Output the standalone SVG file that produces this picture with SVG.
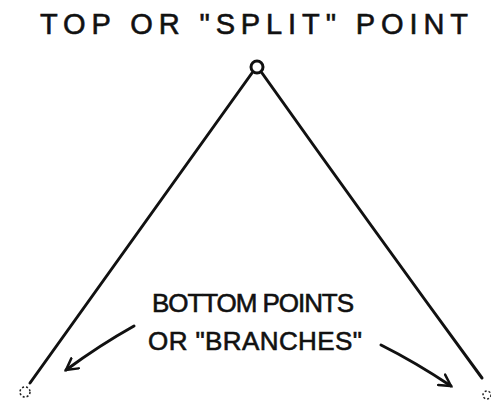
<svg xmlns="http://www.w3.org/2000/svg" width="491" height="407" viewBox="0 0 491 407">
<style>
.t{font-family:"Liberation Sans",Arial,sans-serif;fill:#111;stroke:#111;stroke-width:0.6;font-weight:normal}
.l{stroke:#111;stroke-width:3;fill:none;stroke-linecap:round;stroke-linejoin:round}
.p{stroke:#222;stroke-width:1.5;fill:none}
</style>
<defs>
<marker id="ah" viewBox="0 0 12 12" refX="10" refY="6" markerWidth="5" markerHeight="5" orient="auto" markerUnits="strokeWidth">
<path d="M1,1 L10,6 L1,11" fill="none" stroke="#111" stroke-width="2" stroke-linecap="round"/>
</marker>
</defs>
<rect width="491" height="407" fill="#fff"/>
<g id="title"><text class="t" x="40" y="34" font-size="29" textLength="428" lengthAdjust="spacing">TOP OR "SPLIT" POINT</text></g>
<g id="top"><circle cx="257" cy="67" r="6" class="l"/></g>
<g id="bottomleft"><circle cx="25" cy="392" r="5" class="p" stroke-dasharray="2 2"/></g>
<g id="bottomright"><circle cx="487" cy="395" r="4" class="p" stroke-dasharray="2 2"/></g>
<g id="label"><text class="t" x="152" y="312" font-size="26" textLength="202" lengthAdjust="spacing">BOTTOM POINTS</text>
<text class="t" x="148" y="350" font-size="26" textLength="214" lengthAdjust="spacing">OR "BRANCHES"</text></g>
<g id="connectors">
<path class="l" d="M252,73 Q140,230 30,383"/>
<path class="l" d="M262,73 Q370,225 482,378"/>
<path class="l" d="M134,326 Q100,345 66,370" marker-end="url(#ah)"/>
<path class="l" d="M381,345 Q415,362 451,386" marker-end="url(#ah)"/>
</g>
</svg>
